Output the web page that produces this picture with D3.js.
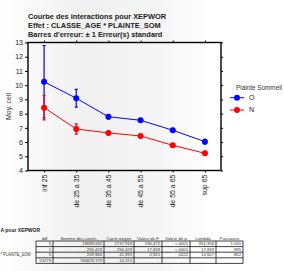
<!DOCTYPE html>
<html>
<head>
<meta charset="utf-8">
<script src="https://cdn.jsdelivr.net/npm/d3@7"></script>
<style>
  body { margin: 0; background: #fff; }
  svg { display: block; font-family: "Liberation Sans", Arial, sans-serif; }
</style>
</head>
<body>
<div id="chart"></div>
<script>
// moyennes par classe d'age, pour chaque modalite de plainte
const categories = ["inf 25", "de 25 a 35", "de 35 a 45", "de 45 a 55", "de 55 a 65", "sup 65"];
const meanO = [10.24, 9.08, 7.78, 7.53, 6.83, 6.03];
const seO = [2.55, 0.62, 0.15, 0.12, 0.14, 0.16];
const meanN = [8.42, 6.92, 6.64, 6.43, 5.77, 5.21];
const seN = [0.86, 0.36, 0.12, 0.10, 0.12, 0.14];
const yTicks = [4, 5, 6, 7, 8, 9, 10, 11, 12, 13];

// tableau ANOVA (seule la partie visible des libelles)
const tableHeader = ["ddl", "Somme des carrés", "Carré moyen", "Valeur de F", "Valeur de p", "Lambda", "Puissance"];
const rowLabels = ["", "", "* PLAINTE_SOM", ""];
const colDdl = ["5", "1", "5", "53279"];
const colSomme = ["13689,592", "256,429", "209,966", "765829,729"];
const colCarre = ["2737,918", "256,429", "41,993", "14,374"];
const colF = ["190,472", "17,839", "2,921", ""];
const colP = ["<,0001", "<,0001", ",0122", ""];
const colLambda = ["952,358", "17,839", "14,607", ""];
const colPuissance = ["1,000", ",995", ",862", ""];

const width = 284, height = 271;
const pLeft = 28, pRight = 221, pTop = 42.5, pBottom = 170.5;

const svg = d3.select("#chart").append("svg")
  .attr("width", width)
  .attr("height", height);

// leger voile gris du fond
let grad = svg.append("defs").append("linearGradient")
  .attr("id", "bg").attr("x1", "0").attr("x2", "1");
grad.append("stop").attr("offset", "0").attr("stop-color", "#ffffff");
grad.append("stop").attr("offset", "0.3").attr("stop-color", "#f0f0f0");
grad.append("stop").attr("offset", "0.55").attr("stop-color", "#f5f5f5");
grad.append("stop").attr("offset", "0.75").attr("stop-color", "#ffffff");
svg.append("rect").attr("width", width).attr("height", height).attr("fill", "url(#bg)");

let x = d3.scalePoint()
  .domain(categories)
  .range([pLeft, pRight])
  .padding(0.5);

let y = d3.scaleLinear()
  .domain([4, 13])
  .range([pBottom, pTop]);

// titres
const titles = ["Courbe des interactions pour XEPWOR", "Effet : CLASSE_AGE * PLAINTE_SOM", "Barres d'erreur: ± 1 Erreur(s) standard"];
svg.selectAll(".title")
  .data(titles)
  .enter().append("text")
  .attr("class", "title")
  .attr("x", 28)
  .attr("y", function (d, i) { return 18.5 + i * 9.3; })
  .attr("font-size", "7.4px")
  .attr("font-weight", "bold")
  .attr("fill", "#222")
  .text(function (d) { return d; });

// axes
svg.append("g")
  .attr("transform", "translate(" + pLeft + ",0)")
  .call(d3.axisLeft(y).tickValues(yTicks).tickSize(3).tickPadding(2).tickFormat(d3.format("d")))
  .call(function (g) { g.select(".domain").remove(); });

svg.append("g")
  .attr("transform", "translate(" + pRight + ",0)")
  .call(d3.axisRight(y).tickValues(yTicks).tickSize(2).tickFormat(""))
  .call(function (g) { g.select(".domain").remove(); });

svg.append("g")
  .attr("transform", "translate(0," + pTop + ")")
  .call(d3.axisTop(x).tickSize(2).tickFormat(""))
  .call(function (g) { g.select(".domain").remove(); });

svg.append("g")
  .attr("transform", "translate(0," + pBottom + ")")
  .call(d3.axisBottom(x).tickSize(2).tickFormat(""))
  .call(function (g) { g.select(".domain").remove(); });

svg.selectAll(".tick text").attr("font-size", "7px").attr("fill", "#222");
svg.selectAll(".tick line").attr("stroke", "#000");

svg.selectAll(".xlab")
  .data(categories)
  .enter().append("text")
  .attr("class", "xlab")
  .attr("transform", function (d) { return "translate(" + x(d) + "," + (pBottom + 4) + ") rotate(-90)"; })
  .attr("dy", "0.35em")
  .attr("text-anchor", "end")
  .attr("font-size", "7px")
  .attr("fill", "#222")
  .text(function (d) { return d; });

// cadre
svg.append("rect")
  .attr("x", pLeft).attr("y", pTop)
  .attr("width", pRight - pLeft).attr("height", pBottom - pTop)
  .attr("fill", "none")
  .attr("stroke", "#000")
  .attr("stroke-width", 1.4);

svg.append("text")
  .attr("transform", "translate(9," + ((pTop + pBottom) / 2) + ") rotate(-90)")
  .attr("dy", "0.35em")
  .attr("text-anchor", "middle")
  .attr("font-size", "7px")
  .attr("fill", "#333")
  .text("Moy. cell");

// series
const series = [
  { name: "O", color: "#0000ff", mean: meanO, se: seO },
  { name: "N", color: "#ff0000", mean: meanN, se: seN }
];

let line = d3.line()
  .x(function (d) { return x(d.cat); })
  .y(function (d) { return y(d.v); });

series.forEach(function (s) {
  let pts = categories.map(function (c, i) { return { cat: c, v: s.mean[i], e: s.se[i] }; });
  let g = svg.append("g");

  g.append("path")
    .datum(pts)
    .attr("d", line)
    .attr("fill", "none")
    .attr("stroke", s.color)
    .attr("stroke-width", 1);

  g.selectAll(".err")
    .data(pts)
    .enter().append("path")
    .attr("d", function (d) {
      let cx = x(d.cat), y1 = y(d.v + d.e), y2 = y(d.v - d.e);
      return "M" + (cx - 1.5) + "," + y1 + "H" + (cx + 1.5) +
        "M" + cx + "," + y1 + "V" + y2 +
        "M" + (cx - 1.5) + "," + y2 + "H" + (cx + 1.5);
    })
    .attr("stroke", s.color)
    .attr("stroke-width", 1.2)
    .attr("fill", "none");

  g.selectAll("circle")
    .data(pts)
    .enter().append("circle")
    .attr("cx", function (d) { return x(d.cat); })
    .attr("cy", function (d) { return y(d.v); })
    .attr("r", 3)
    .attr("fill", s.color);
});

// legende
svg.append("text")
  .attr("x", 236)
  .attr("y", 89.5)
  .attr("font-size", "6.6px")
  .attr("textLength", 46)
  .attr("lengthAdjust", "spacingAndGlyphs")
  .attr("fill", "#333")
  .text("Plainte Sommeil");

let leg = svg.selectAll(".leg")
  .data(series)
  .enter().append("g")
  .attr("class", "leg")
  .attr("transform", function (d, i) { return "translate(237," + (97.7 + i * 12.3) + ")"; });

leg.append("line")
  .attr("x1", -7).attr("x2", 7)
  .attr("stroke", function (d) { return d.color; })
  .attr("stroke-width", 1);

leg.append("circle")
  .attr("r", 3)
  .attr("fill", function (d) { return d.color; });

leg.append("text")
  .attr("x", 12)
  .attr("dy", "0.35em")
  .attr("font-size", "7px")
  .attr("fill", "#222")
  .text(function (d) { return d.name; });

// tableau ANOVA en bas
svg.append("text")
  .attr("x", 0.5)
  .attr("y", 232)
  .attr("font-size", "5px")
  .attr("font-weight", "bold")
  .attr("fill", "#222")
  .text("A pour XEPWOR");

const colEdges = [36, 53, 104, 134, 162, 190, 216, 243];
const columns = [colDdl, colSomme, colCarre, colF, colP, colLambda, colPuissance];
const tTop = 241, rowH = 5.6;

svg.selectAll(".th")
  .data(tableHeader)
  .enter().append("text")
  .attr("class", "th")
  .attr("x", function (d, i) { return (colEdges[i] + colEdges[i + 1]) / 2; })
  .attr("y", tTop - 1.5)
  .attr("text-anchor", "middle")
  .attr("font-size", "4.3px")
  .attr("fill", "#333")
  .text(function (d) { return d; });

svg.selectAll(".rl")
  .data(rowLabels)
  .enter().append("text")
  .attr("class", "rl")
  .attr("x", 0.5)
  .attr("y", function (d, i) { return tTop + i * rowH + 4; })
  .attr("font-size", "4.5px")
  .attr("textLength", function (d) { return d ? 30 : null; })
  .attr("lengthAdjust", "spacingAndGlyphs")
  .attr("fill", "#333")
  .text(function (d) { return d; });

columns.forEach(function (col, j) {
  svg.selectAll(".c" + j)
    .data(col)
    .enter().append("text")
    .attr("x", colEdges[j + 1] - 2)
    .attr("y", function (d, i) { return tTop + i * rowH + 4; })
    .attr("text-anchor", "end")
    .attr("font-size", "4.2px")
    .attr("fill", "#333")
    .text(function (d) { return d; });
});

let grid = svg.append("g").attr("stroke", "#111").attr("stroke-width", 0.8).attr("fill", "none");
d3.range(rowLabels.length + 1).forEach(function (i) {
  grid.append("line")
    .attr("x1", colEdges[0]).attr("x2", colEdges[colEdges.length - 1])
    .attr("y1", tTop + i * rowH).attr("y2", tTop + i * rowH);
});
colEdges.forEach(function (cx) {
  grid.append("line")
    .attr("x1", cx).attr("x2", cx)
    .attr("y1", tTop).attr("y2", tTop + rowLabels.length * rowH);
});
</script>
</body>
</html>
